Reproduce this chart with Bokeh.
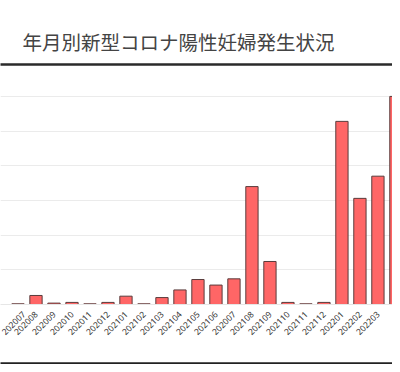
import math
from bokeh.plotting import figure
from bokeh.models import Range1d, FixedTicker, LinearAxis, Grid
from bokeh.embed import file_html
from bokeh.resources import INLINE

title_text = "年月別新型コロナ陽性妊婦発生状況"
months = ["202007", "202008", "202009", "202010", "202011", "202012",
          "202101", "202102", "202103", "202104", "202105", "202106",
          "202007", "202108", "202109", "202110", "202111", "202112",
          "202201", "202202", "202203", "202204"]
counts = [1, 13, 2, 3, 1, 3, 12, 1, 10, 21, 36, 28, 37, 170, 62, 3, 1, 3,
          264, 153, 185, 300]
y_ticks = [50, 100, 150, 200, 250, 300]

idx = list(range(len(months)))

p = figure(width=392, height=364, output_backend="svg", toolbar_location=None,
           x_range=Range1d(-0.972, 20.81), y_range=Range1d(0, 346),
           x_axis_location=None, y_axis_location=None,
           min_border_left=0, min_border_right=0,
           min_border_top=64, min_border_bottom=60,
           title=title_text)
p.outline_line_color = None
p.background_fill_color = "white"
p.border_fill_color = "white"
p.grid.grid_line_color = None

p.title.text_font = "Noto Sans CJK JP"
p.title.text_font_size = "19.5px"
p.title.text_font_style = "normal"
p.title.text_color = "#444444"
p.title.offset = 22
p.title.standoff = 18

p.add_layout(Grid(dimension=1, ticker=FixedTicker(ticks=y_ticks),
                  grid_line_color="#ebebeb", grid_line_width=1))

p.vbar(x=idx, top=counts, width=0.683, fill_color="#ff6666",
       line_color="#5a3c3c", line_width=1)

xa = LinearAxis(ticker=FixedTicker(ticks=idx),
                major_label_overrides={i: m for i, m in enumerate(months)})
xa.major_label_orientation = math.pi / 4
xa.major_label_text_font = "Noto Sans"
xa.major_label_text_font_size = "8.5px"
xa.major_label_text_color = "#333333"
xa.major_tick_out = 0
xa.major_tick_in = 0
xa.minor_tick_out = 0
xa.minor_tick_in = 0
xa.major_label_standoff = 8
xa.axis_line_color = "#e6e6e6"
xa.axis_label = " "
xa.axis_label_text_font_size = "10px"
xa.axis_label_standoff = 8
p.add_layout(xa, "below")

def line_axis(color, width):
    a = LinearAxis(ticker=FixedTicker(ticks=[]))
    a.major_label_text_font_size = "0px"
    a.major_tick_out = 0
    a.major_tick_in = 0
    a.minor_tick_out = 0
    a.minor_tick_in = 0
    a.major_label_standoff = 0
    a.axis_line_color = color
    a.axis_line_width = width
    return a

p.add_layout(line_axis("#222222", 2.5), "below")
p.add_layout(line_axis("#2a2a2a", 2.5), "above")

open("out.html", "w").write(file_html(p, INLINE))
